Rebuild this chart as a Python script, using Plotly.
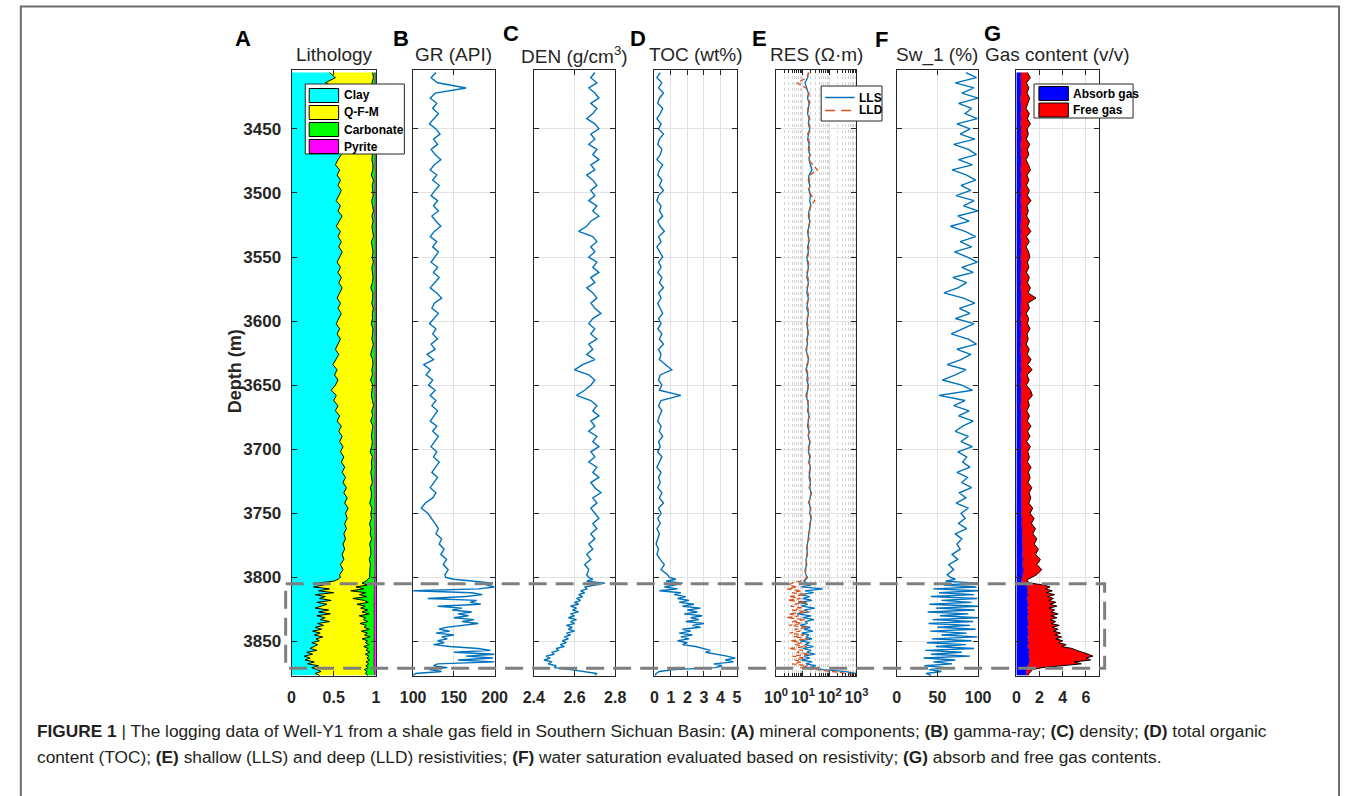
import numpy as np
import plotly.graph_objects as go

W, H = 1354, 796
FONT = "Liberation Sans, Arial, Helvetica, sans-serif"
INK = "#262626"
GRID = "#e2e2e2"
BLUE = "#0072BD"
ORANGE = "#D95319"

# depth sampling: 4 m above 3800 m, 1.5 m through the lower shale interval
depth = np.concatenate([np.arange(3406, 3800, 4), np.arange(3800, 3877.9, 1.5)])

# ---- mineral fractions (v/v) ----
clay = [
    0.45, 0.52, 0.40, 0.55, 0.48, 0.56, 0.50, 0.58, 0.53, 0.57,
    0.51, 0.55, 0.58, 0.53, 0.57, 0.54, 0.59, 0.55, 0.52, 0.57,
    0.54, 0.58, 0.55, 0.59, 0.56, 0.53, 0.58, 0.55, 0.60, 0.56,
    0.53, 0.58, 0.55, 0.59, 0.56, 0.60, 0.57, 0.54, 0.58, 0.55,
    0.59, 0.56, 0.60, 0.57, 0.54, 0.58, 0.55, 0.59, 0.56, 0.53,
    0.57, 0.54, 0.58, 0.55, 0.52, 0.56, 0.53, 0.49, 0.54, 0.51,
    0.55, 0.52, 0.47, 0.53, 0.50, 0.55, 0.52, 0.57, 0.54, 0.59,
    0.56, 0.60, 0.57, 0.61, 0.58, 0.62, 0.59, 0.63, 0.60, 0.64,
    0.61, 0.65, 0.62, 0.66, 0.63, 0.67, 0.64, 0.66, 0.63, 0.65,
    0.62, 0.64, 0.61, 0.63, 0.60, 0.62, 0.58, 0.61, 0.57,
    0.58, 0.55, 0.50, 0.30, 0.38, 0.26, 0.45, 0.32, 0.50, 0.28,
    0.40, 0.33, 0.47, 0.30, 0.42, 0.35, 0.28, 0.44, 0.32, 0.46,
    0.30, 0.40, 0.34, 0.45, 0.31, 0.38, 0.28, 0.36, 0.25, 0.34,
    0.27, 0.37, 0.29, 0.33, 0.24, 0.31, 0.26, 0.22, 0.30, 0.18,
    0.25, 0.15, 0.22, 0.16, 0.27, 0.19, 0.32, 0.24, 0.30, 0.35,
    0.28, 0.33,
]
carbonate = [
    0.030, 0.020, 0.040, 0.025, 0.035, 0.020, 0.030, 0.045, 0.025, 0.030,
    0.020, 0.040, 0.030, 0.025, 0.035, 0.020, 0.030, 0.040, 0.025, 0.030,
    0.045, 0.020, 0.035, 0.030, 0.025, 0.040, 0.030, 0.020, 0.035, 0.025,
    0.040, 0.030, 0.020, 0.045, 0.030, 0.025, 0.035, 0.020, 0.040, 0.030,
    0.025, 0.035, 0.050, 0.025, 0.030, 0.040, 0.020, 0.035, 0.030, 0.045,
    0.025, 0.030, 0.040, 0.020, 0.035, 0.050, 0.030, 0.025, 0.040, 0.030,
    0.055, 0.025, 0.035, 0.045, 0.030, 0.020, 0.040, 0.030, 0.050, 0.025,
    0.035, 0.045, 0.030, 0.040, 0.055, 0.030, 0.045, 0.035, 0.050, 0.040,
    0.030, 0.055, 0.040, 0.045, 0.060, 0.035, 0.050, 0.040, 0.065, 0.045,
    0.055, 0.040, 0.060, 0.050, 0.045, 0.065, 0.050, 0.060, 0.055,
    0.06, 0.08, 0.10, 0.15, 0.08, 0.22, 0.12, 0.28, 0.10, 0.18,
    0.09, 0.25, 0.12, 0.07, 0.20, 0.11, 0.16, 0.08, 0.14, 0.06,
    0.18, 0.10, 0.13, 0.07, 0.17, 0.09, 0.12, 0.06, 0.15, 0.08,
    0.11, 0.05, 0.14, 0.08, 0.10, 0.06, 0.12, 0.07, 0.09, 0.05,
    0.10, 0.06, 0.08, 0.05, 0.09, 0.06, 0.10, 0.07, 0.12, 0.09,
    0.11, 0.08,
]
pyrite = [
    0.008, 0.010, 0.007, 0.009, 0.011, 0.008, 0.006, 0.010, 0.009, 0.007,
    0.009, 0.011, 0.008, 0.007, 0.010, 0.009, 0.012, 0.008, 0.010, 0.007,
    0.010, 0.008, 0.009, 0.011, 0.007, 0.010, 0.008, 0.009, 0.012, 0.008,
    0.007, 0.010, 0.009, 0.008, 0.011, 0.009, 0.007, 0.010, 0.008, 0.011,
    0.009, 0.007, 0.010, 0.012, 0.008, 0.009, 0.011, 0.007, 0.010, 0.008,
    0.011, 0.009, 0.008, 0.010, 0.007, 0.012, 0.009, 0.010, 0.008, 0.011,
    0.008, 0.010, 0.012, 0.009, 0.011, 0.008, 0.010, 0.009, 0.012, 0.010,
    0.011, 0.009, 0.012, 0.010, 0.013, 0.011, 0.009, 0.012, 0.010, 0.013,
    0.012, 0.010, 0.013, 0.011, 0.014, 0.012, 0.010, 0.013, 0.011, 0.014,
    0.013, 0.011, 0.014, 0.012, 0.015, 0.013, 0.014, 0.012, 0.015,
    0.014, 0.016, 0.018, 0.015, 0.020, 0.017, 0.022, 0.018, 0.021, 0.016,
    0.019, 0.023, 0.017, 0.020, 0.024, 0.018, 0.021, 0.019, 0.025, 0.020,
    0.018, 0.022, 0.020, 0.024, 0.019, 0.023, 0.021, 0.018, 0.022, 0.020,
    0.025, 0.019, 0.023, 0.021, 0.026, 0.020, 0.024, 0.022, 0.027, 0.021,
    0.025, 0.023, 0.028, 0.022, 0.026, 0.024, 0.020, 0.022, 0.018, 0.016,
    0.015, 0.014,
]

# ---- logs ----
gr = [
    128, 122, 130, 165, 127, 121, 129, 124, 131, 126,
    120, 128, 133, 125, 130, 122, 127, 134, 126, 121,
    129, 124, 132, 127, 122, 130, 125, 131, 123, 128,
    134, 126, 121, 129, 124, 131, 127, 122, 130, 125,
    132, 127, 121, 129, 135, 126, 123, 131, 126, 120,
    128, 124, 130, 122, 127, 117, 125, 113, 121, 116,
    124, 119, 127, 121, 128, 123, 130, 125, 121, 129,
    124, 131, 126, 122, 129, 125, 132, 127, 123, 130,
    126, 121, 128, 124, 115, 110, 118, 123, 127, 131,
    128, 135, 132, 138, 134, 141, 137, 143, 139,
    140, 150, 175, 198, 190, 200, 180, 100, 172, 185,
    165, 118, 178, 170, 183, 130, 160, 148, 172, 155,
    168, 150, 175, 160, 180, 158, 140, 132, 145, 128,
    150, 135, 142, 130, 138, 125, 145, 180, 195, 150,
    200, 165, 198, 155, 200, 130, 125, 142, 120, 135,
    103, 100,
]
den = [
    2.70, 2.68, 2.71, 2.67, 2.70, 2.72, 2.68, 2.71, 2.69, 2.66,
    2.70, 2.72, 2.68, 2.70, 2.67, 2.71, 2.69, 2.72, 2.68, 2.70,
    2.66, 2.69, 2.71, 2.68, 2.70, 2.67, 2.71, 2.69, 2.72, 2.68,
    2.66, 2.62, 2.69, 2.71, 2.68, 2.70, 2.67, 2.71, 2.69, 2.72,
    2.68, 2.70, 2.66, 2.69, 2.71, 2.68, 2.70, 2.73, 2.69, 2.67,
    2.70, 2.68, 2.71, 2.67, 2.69, 2.66, 2.70, 2.64, 2.60, 2.67,
    2.70, 2.68, 2.65, 2.61, 2.68, 2.71, 2.69, 2.72, 2.68, 2.70,
    2.67, 2.71, 2.69, 2.72, 2.68, 2.70, 2.67, 2.71, 2.69, 2.72,
    2.68, 2.70, 2.73, 2.69, 2.71, 2.68, 2.70, 2.72, 2.69, 2.71,
    2.68, 2.70, 2.67, 2.69, 2.66, 2.68, 2.65, 2.67, 2.66,
    2.67, 2.69, 2.66, 2.75, 2.70, 2.65, 2.66, 2.63, 2.65, 2.62,
    2.64, 2.61, 2.63, 2.60, 2.62, 2.58, 2.61, 2.59, 2.62, 2.58,
    2.60, 2.57, 2.61, 2.58, 2.60, 2.56, 2.59, 2.57, 2.60, 2.56,
    2.58, 2.55, 2.57, 2.54, 2.56, 2.53, 2.55, 2.51, 2.52, 2.49,
    2.50, 2.46, 2.48, 2.45, 2.49, 2.47, 2.51, 2.50, 2.58, 2.66,
    2.71, 2.70,
]
toc = [
    0.35, 0.15, 0.45, 0.25, 0.55, 0.30, 0.20, 0.50, 0.35, 0.15,
    0.40, 0.25, 0.55, 0.30, 0.20, 0.45, 0.35, 0.15, 0.50, 0.30,
    0.20, 0.45, 0.30, 0.55, 0.25, 0.15, 0.40, 0.30, 0.50, 0.20,
    0.35, 0.60, 0.25, 0.40, 0.15, 0.35, 0.50, 0.25, 0.40, 0.20,
    0.45, 0.30, 0.55, 0.25, 0.40, 0.20, 0.35, 0.50, 0.25, 0.40,
    0.20, 0.45, 0.30, 0.55, 0.25, 0.40, 0.30, 0.65, 1.05, 0.35,
    0.25, 0.45, 0.30, 1.60, 0.40, 0.25, 0.45, 0.30, 0.20, 0.40,
    0.30, 0.50, 0.25, 0.35, 0.20, 0.45, 0.30, 0.15, 0.40, 0.25,
    0.35, 0.20, 0.45, 0.30, 0.55, 0.25, 0.40, 0.20, 0.35, 0.15,
    0.30, 0.20, 0.10, 0.25, 0.15, 0.35, 0.60, 0.40, 0.80,
    0.9, 1.3, 0.7, 1.7, 1.2, 0.6, 1.4, 0.3, 1.6, 1.2,
    1.9, 1.4, 2.1, 1.5, 2.4, 1.7, 2.8, 2.0, 2.6, 1.8,
    2.9, 2.2, 2.7, 1.9, 3.0, 2.3, 2.8, 1.7, 2.2, 1.5,
    2.3, 1.6, 2.1, 1.4, 2.0, 1.7, 2.5, 2.9, 3.4, 3.1,
    3.9, 4.4, 4.9, 4.3, 4.8, 3.6, 4.1, 3.7, 1.2, 0.3,
    0.1, 0.05,
]
lls = [
    16, 15, 12, 14, 16, 15, 17, 16, 15, 17,
    16, 18, 16, 15, 17, 16, 18, 17, 19, 22,
    17, 16, 18, 17, 19, 18, 20, 17, 16, 18,
    17, 15, 16, 17, 15, 16, 14, 15, 16, 15,
    14, 16, 15, 14, 16, 15, 14, 16, 15, 14,
    15, 16, 14, 15, 13, 14, 16, 15, 13, 15,
    14, 16, 15, 13, 15, 16, 15, 17, 16, 15,
    17, 16, 18, 17, 16, 18, 17, 19, 18, 17,
    19, 18, 20, 18, 17, 19, 18, 20, 19, 18,
    17, 16, 15, 14, 15, 13, 14, 12, 13,
    15, 13, 11, 14, 20, 9, 55, 12, 25, 8,
    18, 10, 22, 7, 15, 9, 28, 11, 16, 6,
    20, 10, 26, 12, 15, 8, 19, 11, 24, 9,
    17, 13, 22, 8, 18, 12, 25, 10, 20, 14,
    28, 11, 18, 9, 22, 13, 30, 18, 60, 400,
    900, 1000,
]
lld = [
    17, 14, 6, 13, 17, 16, 18, 15, 16, 18,
    17, 19, 15, 16, 18, 17, 19, 16, 24, 35,
    18, 17, 19, 16, 21, 28, 19, 18, 17, 19,
    16, 16, 17, 16, 16, 17, 15, 16, 17, 14,
    15, 17, 14, 15, 17, 14, 15, 17, 14, 15,
    16, 15, 15, 14, 14, 15, 17, 14, 14, 16,
    15, 15, 16, 14, 16, 15, 16, 18, 15, 16,
    18, 15, 19, 16, 17, 19, 16, 20, 17, 18,
    20, 17, 21, 19, 16, 20, 19, 21, 18, 19,
    16, 17, 14, 15, 14, 14, 13, 13, 12,
    14, 12, 8, 4, 3, 6, 2.5, 9, 4, 12,
    3, 8, 2.8, 14, 5, 3.5, 10, 4, 18, 3,
    7, 2.5, 12, 4, 9, 3, 15, 5, 8, 3.2,
    11, 4.5, 16, 3.5, 9, 5, 14, 3, 10, 6,
    18, 4, 12, 5, 9, 4, 15, 8, 30, 150,
    500, 700,
]
sw = [
    85, 98, 72, 95, 80, 100, 76, 92, 84, 99,
    74, 90, 78, 96, 70, 88, 98, 76, 93, 68,
    86, 97, 79, 91, 73, 95, 82, 100, 75, 89,
    66, 84, 97, 78, 92, 71, 87, 99, 80, 94,
    69, 86, 75, 58, 82, 96, 77, 90, 72, 95,
    81, 67, 88, 98, 74, 91, 79, 62, 85, 72,
    56, 80, 93, 52, 84, 70, 89, 76, 94, 81,
    72, 88, 79, 93, 75, 86, 81, 90, 74, 87,
    80, 92, 77, 85, 73, 88, 79, 84, 76, 86,
    72, 80, 74, 78, 68, 75, 64, 70, 62,
    66, 72, 60, 100, 58, 98, 45, 100, 52, 95,
    42, 99, 55, 92, 40, 100, 48, 96, 38, 88,
    53, 100, 44, 94, 39, 90, 50, 97, 41, 86,
    55, 99, 43, 92, 37, 85, 48, 95, 35, 80,
    42, 90, 33, 72, 45, 68, 34, 60, 40, 55,
    36, 42,
]
absorb_gas = [
    0.40, 0.36, 0.42, 0.38, 0.41, 0.35, 0.39, 0.43, 0.37, 0.40,
    0.36, 0.42, 0.38, 0.41, 0.35, 0.40, 0.37, 0.43, 0.39, 0.36,
    0.41, 0.38, 0.42, 0.37, 0.40, 0.36, 0.41, 0.38, 0.43, 0.39,
    0.36, 0.40, 0.37, 0.42, 0.38, 0.41, 0.36, 0.40, 0.38, 0.42,
    0.37, 0.40, 0.36, 0.41, 0.39, 0.43, 0.38, 0.40, 0.36, 0.41,
    0.38, 0.42, 0.37, 0.40, 0.36, 0.39, 0.42, 0.38, 0.41, 0.37,
    0.40, 0.36, 0.42, 0.38, 0.41, 0.37, 0.40, 0.43, 0.39, 0.41,
    0.37, 0.42, 0.39, 0.41, 0.38, 0.43, 0.40, 0.42, 0.38, 0.44,
    0.41, 0.43, 0.39, 0.45, 0.42, 0.46, 0.43, 0.48, 0.45, 0.50,
    0.47, 0.52, 0.49, 0.55, 0.51, 0.57, 0.53, 0.58, 0.55,
    0.50, 0.45, 0.42, 0.55, 0.85, 0.95, 0.90, 1.00, 0.92, 1.02,
    0.95, 0.88, 1.00, 0.93, 1.04, 0.96, 0.90, 1.02, 0.95, 1.05,
    0.97, 0.91, 1.03, 0.96, 1.06, 0.98, 0.92, 1.04, 0.97, 1.07,
    0.99, 0.93, 1.05, 0.98, 1.08, 1.00, 0.94, 1.06, 1.10, 1.02,
    1.12, 1.05, 1.15, 1.08, 1.12, 1.04, 1.00, 0.95, 0.90, 0.85,
    0.88, 0.85,
]
free_gas = [
    0.55, 0.85, 0.45, 0.70, 0.50, 0.80, 0.60, 0.40, 0.75, 0.55,
    0.85, 0.50, 0.65, 0.45, 0.80, 0.55, 0.70, 0.40, 0.65, 0.85,
    0.50, 0.70, 0.45, 0.75, 0.55, 0.90, 0.50, 0.65, 0.45, 0.75,
    0.60, 0.85, 0.50, 0.70, 0.45, 0.65, 0.80, 0.55, 0.70, 0.45,
    0.75, 0.55, 0.85, 0.60, 1.30, 0.55, 0.75, 0.45, 0.70, 0.55,
    0.80, 0.50, 0.65, 0.45, 0.75, 0.55, 0.85, 0.60, 0.95, 0.55,
    0.70, 0.50, 0.80, 1.00, 0.60, 0.75, 0.50, 0.70, 0.55, 0.85,
    0.60, 0.75, 0.50, 0.80, 0.60, 0.70, 0.55, 0.85, 0.65, 0.75,
    0.60, 0.90, 0.70, 0.80, 0.65, 0.95, 0.75, 1.05, 0.85, 1.15,
    0.95, 1.25, 1.05, 1.35, 1.15, 1.50, 1.25, 1.60, 1.20,
    0.80, 0.55, 0.48, 0.65, 1.55, 1.95, 1.60, 2.10, 1.68, 2.28,
    1.75, 2.32, 1.80, 2.47, 1.86, 2.54, 1.90, 2.28, 2.05, 2.55,
    2.03, 2.59, 1.87, 2.44, 1.94, 2.72, 2.18, 2.56, 2.23, 2.73,
    2.31, 2.97, 2.35, 3.02, 2.52, 3.30, 2.96, 3.74, 4.10, 4.78,
    5.08, 5.55, 4.85, 5.32, 3.88, 4.56, 2.50, 1.25, 0.50, 0.35,
    0.22, 0.15,
]

depth_ticks = [3450, 3500, 3550, 3600, 3650, 3700, 3750, 3800, 3850]
target_top, target_base = 3805, 3871

n = len(depth)
for name, arr in [("clay", clay), ("carbonate", carbonate), ("pyrite", pyrite),
                  ("gr", gr), ("den", den), ("toc", toc), ("lls", lls),
                  ("lld", lld), ("sw", sw), ("absorb_gas", absorb_gas),
                  ("free_gas", free_gas)]:
    assert len(arr) == n, (name, len(arr), n)

clay_a = np.array(clay)
carb_a = np.array(carbonate)
pyr_a = np.array(pyrite)
qfm_a = 1.0 - clay_a - carb_a - pyr_a          # quartz-feldspar-mica balance
absorb_a = np.array(absorb_gas)
total_gas = absorb_a + np.array(free_gas)


def fx(px):
    return px / W


def fy(py):
    return 1 - py / H


# track placement (pixels) and x-axis definitions
tracks = [(284, 370), (408, 491), (531, 614), (654, 738),
          (778, 860), (901, 984), (1023, 1107)]
PLOT_TOP, PLOT_BOT = 70, 676

xspecs = [
    dict(range=[0, 1], tickvals=[0, 0.5, 1], ticktext=["0", "0.5", "1"]),
    dict(range=[100, 200], tickvals=[100, 150, 200], ticktext=["100", "150", "200"]),
    dict(range=[2.4, 2.8], tickvals=[2.4, 2.6, 2.8], ticktext=["2.4", "2.6", "2.8"]),
    dict(range=[0, 5], tickvals=[0, 1, 2, 3, 4, 5], ticktext=["0", "1", "2", "3", "4", "5"]),
    dict(type="log", range=[0, 3], tickvals=[1, 10, 100, 1000],
         ticktext=["10<sup>0</sup>", "10<sup>1</sup>", "10<sup>2</sup>", "10<sup>3</sup>"],
         minor=dict(tickvals=[2, 3, 4, 5, 6, 7, 8, 9, 20, 30, 40, 50, 60, 70, 80, 90,
                              200, 300, 400, 500, 600, 700, 800, 900],
                    ticks="inside", ticklen=3, tickcolor=INK,
                    showgrid=True, gridcolor="#d4d4d4", griddash="dot", gridwidth=1)),
    dict(range=[0, 100], tickvals=[0, 50, 100], ticktext=["0", "50", "100"]),
    dict(range=[0, 7.1], tickvals=[0, 2, 4, 6], ticktext=["0", "2", "4", "6"]),
]

xtick_font = dict(family=FONT, size=16, color=INK, weight="bold")
ytick_font = dict(family=FONT, size=17, color=INK, weight="bold")

layout = dict(
    width=W, height=H, margin=dict(l=0, r=0, t=0, b=0),
    paper_bgcolor="white", plot_bgcolor="white", showlegend=False,
    font=dict(family=FONT, color=INK),
)

for k, ((l, r), xs) in enumerate(zip(tracks, xspecs), start=1):
    sfx = "" if k == 1 else str(k)
    xa = dict(domain=[fx(l), fx(r)], anchor="y" + sfx, side="bottom",
              showline=True, linecolor=INK, linewidth=1, mirror="ticks",
              ticks="inside", ticklen=5, tickwidth=1, tickcolor=INK,
              showgrid=True, gridcolor=GRID, gridwidth=1, zeroline=False,
              tickmode="array", tickfont=xtick_font, ticklabelstandoff=7,
              fixedrange=True)
    xa.update(xs)
    ya = dict(domain=[fy(PLOT_BOT), fy(PLOT_TOP)], anchor="x" + sfx,
              range=[3877, 3404], showline=True, linecolor=INK, linewidth=1,
              mirror="ticks", ticks="inside", ticklen=5, tickwidth=1, tickcolor=INK,
              showgrid=True, gridcolor=GRID, gridwidth=1, zeroline=False,
              tickmode="array", tickvals=depth_ticks,
              ticktext=[str(t) for t in depth_ticks],
              tickfont=ytick_font, showticklabels=(k == 1), ticklabelstandoff=6,
              fixedrange=True)
    if k > 1:
        ya["matches"] = "y"
    layout["xaxis" + sfx] = xa
    layout["yaxis" + sfx] = ya

fig = go.Figure(layout=layout)


def track(x, k, **kw):
    sfx = "" if k == 1 else str(k)
    return go.Scatter(x=x, y=depth, xaxis="x" + sfx, yaxis="y" + sfx,
                      mode="lines", hoverinfo="skip", **kw)


# A: stacked mineral components
b1 = clay_a
b2 = b1 + qfm_a
b3 = b2 + carb_a
b4 = b3 + pyr_a
fig.add_trace(track(b1, 1, fill="tozerox", fillcolor="#00FFFF", line=dict(color="black", width=1)))
fig.add_trace(track(b2, 1, fill="tonextx", fillcolor="#FFFF00", line=dict(color="black", width=1)))
fig.add_trace(track(b3, 1, fill="tonextx", fillcolor="#00FF00", line=dict(color="#1a1a1a", width=0.6)))
fig.add_trace(track(b4, 1, fill="tonextx", fillcolor="#FF00FF", line=dict(color="rgba(0,0,0,0)", width=0)))

# B-D, F: single curves
fig.add_trace(track(gr, 2, line=dict(color=BLUE, width=1.4)))
fig.add_trace(track(den, 3, line=dict(color=BLUE, width=1.4)))
fig.add_trace(track(toc, 4, line=dict(color=BLUE, width=1.4)))
# E: resistivities
fig.add_trace(track(lls, 5, line=dict(color=BLUE, width=1.3)))
fig.add_trace(track(lld, 5, line=dict(color=ORANGE, width=1.3, dash="5px,3px")))
fig.add_trace(track(sw, 6, line=dict(color=BLUE, width=1.4)))
# G: stacked gas contents
fig.add_trace(track(absorb_a, 7, fill="tozerox", fillcolor="#0000FF", line=dict(color="#0000FF", width=0.5)))
fig.add_trace(track(total_gas, 7, fill="tonextx", fillcolor="#FF0000", line=dict(color="black", width=1)))

shapes = []


def rect_px(x0, y0, x1, y1, fill="white", color=INK, width=1):
    return dict(type="rect", xref="paper", yref="paper",
                x0=fx(x0), x1=fx(x1), y0=fy(y1), y1=fy(y0),
                fillcolor=fill, line=dict(color=color, width=width), layer="above")


# outer figure frame
shapes.append(dict(type="rect", xref="paper", yref="paper",
                   x0=fx(8), x1=fx(1352), y0=-0.2, y1=fy(6.5),
                   line=dict(color="#6e6e6e", width=2), fillcolor="rgba(0,0,0,0)"))

# target interval outline
shapes.append(dict(type="rect", xref="paper", yref="y",
                   x0=fx(278), x1=fx(1113), y0=target_top, y1=target_base,
                   line=dict(color="#7f7f7f", width=3, dash="18px,9px"),
                   fillcolor="rgba(0,0,0,0)", layer="above"))

annotations = []


def text_px(x, y, s, size, bold=False, anchor="center", color=INK, **kw):
    annotations.append(dict(
        x=fx(x), y=fy(y), xref="paper", yref="paper", text=s, showarrow=False,
        xanchor=anchor, yanchor="middle",
        font=dict(family=FONT, size=size, color=color, weight="bold" if bold else "normal"),
        **kw))


# lithology legend
shapes.append(rect_px(298, 84, 399, 154))
lith_items = [("Clay", "#00FFFF"), ("Q-F-M", "#FFFF00"),
              ("Carbonate", "#00FF00"), ("Pyrite", "#FF00FF")]
for i, (lab, col) in enumerate(lith_items):
    yc = 95.5 + 17 * i
    shapes.append(rect_px(302, yc - 7, 332, yc + 7, fill=col, color="black"))
    text_px(335, yc, lab, 12, bold=True, anchor="left", color="black")

# resistivity legend
shapes.append(rect_px(824, 86, 886, 121))
for i, (lab, col, dash) in enumerate([("LLS", BLUE, "solid"), ("LLD", ORANGE, "10px,6px")]):
    yc = 97.5 + 13 * i
    shapes.append(dict(type="line", xref="paper", yref="paper",
                       x0=fx(828), x1=fx(858), y0=fy(yc), y1=fy(yc),
                       line=dict(color=col, width=1.5, dash=dash), layer="above"))
    text_px(861, yc, lab, 12, bold=True, anchor="left", color="black")

# gas legend
shapes.append(rect_px(1041, 84, 1142, 118))
for i, (lab, col) in enumerate([("Absorb gas", "#0000FF"), ("Free gas", "#FF0000")]):
    yc = 93.5 + 16.5 * i
    shapes.append(rect_px(1046, yc - 7, 1076, yc + 7, fill=col, color="black"))
    text_px(1079, yc, lab, 12, bold=True, anchor="left", color="black")

# track titles
titles = [(327.5, "Lithology"), (449, "GR (API)"), (572, "DEN (g/cm<sup>3</sup>)"),
          (696, "TOC (wt%)"), (819, "RES (\u03a9\u00b7m)"), (942, "Sw_1 (%)"),
          (1065, "Gas content (v/v)")]
for x, s in titles:
    text_px(x, 55, s, 19)

# panel letters
for x, y, s in [(234, 38, "A"), (396, 38, "B"), (508, 33, "C"), (637.5, 38, "D"),
                (761, 38, "E"), (885.5, 39, "F"), (999, 33, "G")]:
    text_px(x, y, s, 22, bold=True, color="black")

# depth axis title
text_px(226.5, 371, "Depth (m)", 18, bold=True, textangle=-90)

# caption
cap1 = ("<b>FIGURE 1</b> | The logging data of Well-Y1 from a shale gas field in Southern "
        "Sichuan Basin: <b>(A)</b> mineral components; <b>(B)</b> gamma-ray; "
        "<b>(C)</b> density; <b>(D)</b> total organic")
cap2 = ("content (TOC); <b>(E)</b> shallow (LLS) and deep (LLD) resistivities; "
        "<b>(F)</b> water saturation evaluated based on resistivity; "
        "<b>(G)</b> absorb and free gas contents.")
text_px(22, 731, cap1, 17.3, anchor="left", color="#231f20")
text_px(22, 757, cap2, 17.3, anchor="left", color="#231f20")

fig.update_layout(shapes=shapes, annotations=annotations)
fig.write_html("out.html")
